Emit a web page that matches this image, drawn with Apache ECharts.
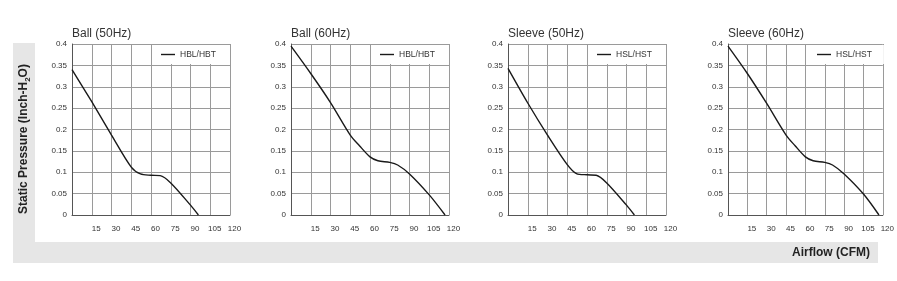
<!DOCTYPE html>
<html>
<head>
<meta charset="utf-8">
<script src="https://cdn.jsdelivr.net/npm/echarts@6/dist/echarts.min.js"></script>
<style>
  html, body { margin: 0; padding: 0; background: #fff; }
  #chart { width: 897px; height: 281px; }
</style>
</head>
<body>
<div id="chart"></div>
<script>
  //图表标题
  var titles = ['Ball (50Hz)', 'Ball (60Hz)', 'Sleeve (50Hz)', 'Sleeve (60Hz)']
  //图例名称
  var legendNames = ['HBL/HBT', 'HBL/HBT', 'HSL/HST', 'HSL/HST']
  //x轴刻度
  var xTicks = [15, 30, 45, 60, 75, 90, 105, 120]
  //y轴刻度
  var yTicks = [0, 0.05, 0.1, 0.15, 0.2, 0.25, 0.3, 0.35, 0.4]

  //Ball 50Hz 曲线
  var ball50Flow = [0, 15, 30, 45, 52, 60, 67, 75, 90, 96]
  var ball50Pres = [0.34, 0.265, 0.187, 0.112, 0.096, 0.093, 0.092, 0.075, 0.023, 0]
  //Ball 60Hz 曲线
  var ball60Flow = [0, 15, 30, 45, 52, 60, 66, 75, 81, 90, 105, 117]
  var ball60Pres = [0.395, 0.331, 0.263, 0.187, 0.162, 0.136, 0.127, 0.123, 0.117, 0.096, 0.047, 0]
  //Sleeve 50Hz 曲线
  var sleeve50Flow = [0, 15, 30, 45, 52, 60, 67, 75, 90, 96]
  var sleeve50Pres = [0.343, 0.262, 0.187, 0.118, 0.097, 0.094, 0.093, 0.075, 0.023, 0]
  //Sleeve 60Hz 曲线
  var sleeve60Flow = [0, 15, 30, 45, 52, 60, 66, 75, 81, 90, 105, 117]
  var sleeve60Pres = [0.395, 0.331, 0.261, 0.187, 0.162, 0.136, 0.127, 0.123, 0.117, 0.096, 0.049, 0]

  var flows = [ball50Flow, ball60Flow, sleeve50Flow, sleeve60Flow]
  var pressures = [ball50Pres, ball60Pres, sleeve50Pres, sleeve60Pres]

  //每个小图的左边位置
  var gridLefts = [72, 291, 508, 728]
  var gridTop = 44
  var gridW = 158
  var gridH = 171

  var chart = echarts.init(document.getElementById('chart'))

  var grids = [], xAxes = [], yAxes = [], series = [], titleArr = [], legends = []

  for (var i = 0; i < 4; i++) {
    grids.push({ left: gridLefts[i], top: gridTop, width: gridW, height: gridH })
    titleArr.push({
      text: titles[i],
      left: gridLefts[i],
      top: 28,
      padding: 0,
      textStyle: { fontFamily: 'Liberation Sans', fontSize: 12, fontWeight: 'normal', color: '#333' }
    })
    xAxes.push({
      type: 'value',
      gridIndex: i,
      min: 0,
      max: 120,
      interval: 15,
      axisLine: { lineStyle: { color: '#555', width: 1 } },
      axisTick: { show: false },
      splitLine: { lineStyle: { color: '#9a9a9a', width: 1 } },
      axisLabel: {
        margin: 10,
        padding: [0, 0, 0, 9],
        fontFamily: 'Liberation Sans',
        fontSize: 8,
        color: '#333',
        formatter: function (v) { return xTicks.indexOf(v) >= 0 ? String(v) : '' }
      }
    })
    yAxes.push({
      type: 'value',
      gridIndex: i,
      min: 0,
      max: 0.4,
      interval: 0.05,
      axisLine: { show: true, lineStyle: { color: '#555', width: 1 } },
      axisTick: { show: false },
      splitLine: { lineStyle: { color: '#9a9a9a', width: 1 } },
      axisLabel: {
        margin: 5,
        fontFamily: 'Liberation Sans',
        fontSize: 8,
        color: '#333',
        formatter: function (v) {
          //找最接近的刻度文字
          for (var k = 0; k < yTicks.length; k++) {
            if (Math.abs(yTicks[k] - v) < 1e-6) return String(yTicks[k])
          }
          return ''
        }
      }
    })
    var pts = []
    for (var j = 0; j < flows[i].length; j++) {
      pts.push([flows[i][j], pressures[i][j]])
    }
    series.push({
      name: legendNames[i] + '#' + i,
      type: 'line',
      xAxisIndex: i,
      yAxisIndex: i,
      data: pts,
      smooth: 0.3,
      showSymbol: false,
      lineStyle: { color: '#1a1a1a', width: 1.4 },
      itemStyle: { color: '#1a1a1a' },
      z: 5
    })
    legends.push({
      data: [legendNames[i] + '#' + i],
      left: gridLefts[i] + 81,
      top: gridTop + 1,
      padding: [5, 12, 5, 8],
      backgroundColor: '#fff',
      icon: 'rect',
      itemWidth: 14,
      itemHeight: 1.4,
      itemGap: 0,
      z: 6,
      textStyle: { fontFamily: 'Liberation Sans', fontSize: 8.5, color: '#333' },
      formatter: function (n) { return n.split('#')[0] }
    })
  }

  var option = {
    animation: false,
    backgroundColor: '#fff',
    title: titleArr,
    legend: legends,
    grid: grids,
    xAxis: xAxes,
    yAxis: yAxes,
    series: series,
    graphic: [
      //左边灰色竖条
      { type: 'rect', shape: { x: 13, y: 43, width: 22, height: 220 }, style: { fill: '#e6e6e6' }, silent: true, z: -10 },
      //底部灰色横条
      { type: 'rect', shape: { x: 13, y: 242, width: 865, height: 21 }, style: { fill: '#e6e6e6' }, silent: true, z: -10 },
      //y轴名称
      {
        type: 'text',
        x: 24,
        y: 139,
        rotation: Math.PI / 2,
        style: {
          text: '{a|Static Pressure (Inch-H}{s|2}{a|O)}',
          align: 'center',
          verticalAlign: 'middle',
          rich: {
            a: { fontFamily: 'Liberation Sans', fontSize: 12, fontWeight: 'bold', fill: '#222' },
            s: { fontFamily: 'Liberation Sans', fontSize: 8, fontWeight: 'bold', fill: '#222', padding: [7, 0, 0, 0] }
          }
        }
      },
      //x轴名称
      {
        type: 'text',
        x: 870,
        y: 253,
        style: {
          text: 'Airflow (CFM)',
          align: 'right',
          verticalAlign: 'middle',
          fontFamily: 'Liberation Sans',
          fontSize: 12,
          fontWeight: 'bold',
          fill: '#222'
        }
      }
    ]
  }

  chart.setOption(option)
</script>
</body>
</html>
